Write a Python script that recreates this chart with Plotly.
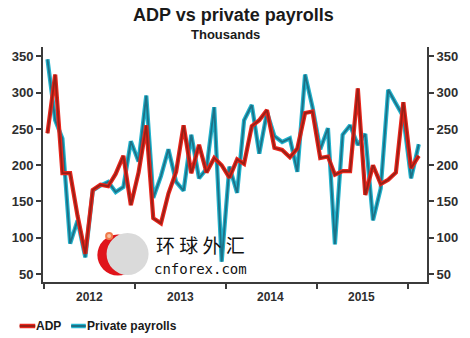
import pandas as pd
import plotly.graph_objects as go

# ---- data (thousands), monthly Jan 2012 .. Feb 2016 ----
months = [d.strftime("%Y-%m-15") for d in pd.date_range("2012-01-01", periods=50, freq="MS")]

adp = [244, 325, 189, 189, 130, 78, 166, 173, 171, 188, 213, 145,
       190, 255, 127, 120, 161, 191, 255, 189, 228, 190, 210, 200,
       183, 208, 202, 254, 262, 276, 224, 221, 211, 223, 272, 274,
       210, 212, 187, 192, 192, 306, 159, 200, 174, 180, 190, 287,
       196, 213]

private_payrolls = [346, 262, 237, 92, 124, 73, 165, 172, 177, 163, 170, 233,
                    205, 296, 155, 185, 222, 177, 165, 242, 182, 195, 280, 67,
                    198, 162, 262, 283, 216, 273, 240, 232, 237, 191, 325, 280,
                    222, 251, 91, 242, 255, 228, 243, 124, 168, 304, 285, 267,
                    182, 229]

y_ticks = [50, 100, 150, 200, 250, 300, 350]
year_ticks = ["2012-01-01", "2013-01-01", "2014-01-01", "2015-01-01", "2016-01-01"]
year_labels = ["2012", "2013", "2014", "2015"]
year_label_pos = ["2012-07-01", "2013-07-01", "2014-07-01", "2015-07-01"]

RED_OUT, RED_IN = "#e8261c", "#9a1f16"
BLUE_OUT, BLUE_IN = "#22b2cc", "#1c7187"
AXIS = "#3b3b3b"
TXT = "#2e2e2e"
FONT = "Liberation Sans"

fig = go.Figure()
# private payrolls (glow + core)
fig.add_trace(go.Scatter(x=months, y=private_payrolls, mode="lines", showlegend=False,
                         line=dict(color=BLUE_OUT, width=4.2), hoverinfo="skip"))
fig.add_trace(go.Scatter(x=months, y=private_payrolls, mode="lines", name="Private payrolls",
                         showlegend=False, line=dict(color=BLUE_IN, width=1.8)))
# ADP (glow + core)
fig.add_trace(go.Scatter(x=months, y=adp, mode="lines", showlegend=False,
                         line=dict(color=RED_OUT, width=4.2), hoverinfo="skip"))
fig.add_trace(go.Scatter(x=months, y=adp, mode="lines", name="ADP",
                         showlegend=False, line=dict(color=RED_IN, width=1.8)))
# invisible trace to activate right axis
fig.add_trace(go.Scatter(x=[months[0]], y=[adp[0]], yaxis="y2", mode="lines",
                         showlegend=False, line=dict(width=0), hoverinfo="skip"))

yr = [39, 363]
fig.update_layout(
    width=470, height=338,
    margin=dict(l=41, r=34, t=47, b=56),
    paper_bgcolor="white", plot_bgcolor="white",
    showlegend=False,
    xaxis=dict(type="date", range=["2011-12-28", "2016-03-19"],
               showgrid=False, zeroline=False,
               showline=True, linecolor=AXIS, linewidth=2,
               ticks="outside", tickvals=year_ticks, ticklen=5, tickwidth=2,
               tickcolor=AXIS, showticklabels=False),
    yaxis=dict(range=yr, tickvals=y_ticks, showgrid=False, zeroline=False,
               showline=True, linecolor=AXIS, linewidth=2,
               ticks="outside", ticklen=5, tickwidth=2, tickcolor=AXIS,
               tickfont=dict(family=FONT, size=13, color=TXT, weight="bold")),
    yaxis2=dict(range=yr, tickvals=y_ticks, overlaying="y", side="right",
                showgrid=False, zeroline=False,
                showline=True, linecolor=AXIS, linewidth=2,
                ticks="outside", ticklen=5, tickwidth=2, tickcolor=AXIS,
                tickfont=dict(family=FONT, size=13, color=TXT, weight="bold")),
)

ann = []
# title + subtitle
ann.append(dict(text="<b>ADP vs private payrolls</b>", xref="paper", yref="paper",
                x=(237 - 41) / 395, y=(282 - 15) / 235, xanchor="center", yanchor="middle",
                showarrow=False, font=dict(family=FONT, size=18, color="#1a1a1a")))
ann.append(dict(text="<b>Thousands</b>", xref="paper", yref="paper",
                x=(229 - 41) / 395, y=(282 - 34) / 235, xanchor="center", yanchor="middle",
                showarrow=False, font=dict(family=FONT, size=13, color="#1a1a1a")))
# year labels
for lab, pos in zip(year_labels, year_label_pos):
    ann.append(dict(text="<b>" + lab + "</b>", x=pos, xref="x", yref="paper",
                    y=(282 - 297) / 235, xanchor="center", yanchor="middle", showarrow=False,
                    font=dict(family=FONT, size=12, color=TXT)))
# legend
ann.append(dict(text="<b>ADP</b>", xref="paper", yref="paper", x=(34 - 41) / 395,
                y=(282 - 326) / 235, xanchor="left", yanchor="middle", showarrow=False,
                xshift=-2, font=dict(family=FONT, size=12, color="#1a1a1a")))
ann.append(dict(text="<b>Private payrolls</b>", xref="paper", yref="paper", x=(86 - 41) / 395,
                y=(282 - 326) / 235, xanchor="left", yanchor="middle", showarrow=False,
                xshift=-2, font=dict(family=FONT, size=12, color="#1a1a1a")))
# watermark
ann.append(dict(text="环 球 外 汇", xref="paper", yref="paper", x=(203 - 41) / 395,
                y=(282 - 244) / 235, xanchor="center", yanchor="middle", showarrow=False,
                font=dict(family="Noto Sans CJK SC", size=19, color="#111")))
ann.append(dict(text="cnforex.com", xref="paper", yref="paper", x=(203 - 41) / 395,
                y=(282 - 269) / 235, xanchor="center", yanchor="middle", showarrow=False,
                font=dict(family="DejaVu Sans Mono", size=14, color="#111")))
fig.update_layout(annotations=ann)

def px2paper(px, py):
    return (px - 41) / 395, (282 - py) / 235

shapes = []
# legend swatches
for (x0, x1), (co, ci) in [((17, 33), (RED_OUT, RED_IN)), ((70, 85), (BLUE_OUT, BLUE_IN))]:
    a0, b = px2paper(x0, 326)
    a1, _ = px2paper(x1, 326)
    shapes.append(dict(type="line", xref="paper", yref="paper", x0=a0, x1=a1, y0=b, y1=b,
                       line=dict(color=co, width=4.5)))
    shapes.append(dict(type="line", xref="paper", yref="paper", x0=a0, x1=a1, y0=b, y1=b,
                       line=dict(color=ci, width=2)))

def circle(cx, cy, r, color):
    ax, ay = px2paper(cx, cy)
    return dict(type="circle", xref="paper", yref="paper", xsizemode="pixel", ysizemode="pixel",
                xanchor=ax, yanchor=ay, x0=-r, x1=r, y0=-r, y1=r,
                fillcolor=color, line=dict(width=0), layer="above")

shapes.append(circle(118, 255, 20.5, "#e0141b"))
shapes.append(circle(128, 254, 21, "#dadada"))
shapes.append(circle(109, 236, 4, "#f07a4a"))
shapes.append(circle(109, 236, 2, "#f9c0a0"))
fig.update_layout(shapes=shapes)

fig.write_html("out.html")
